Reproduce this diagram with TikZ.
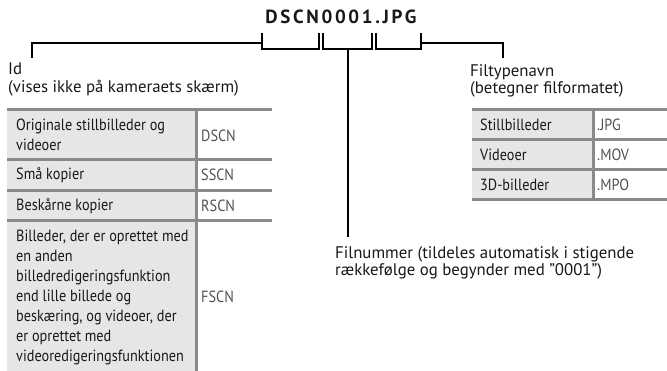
\documentclass[tikz,border=0pt]{standalone}
\usepackage{fontspec}
\setmainfont{PT Sans}
\newfontfamily\cellfont[FakeStretch=0.88]{PT Sans}
\definecolor{txt}{HTML}{1A1718}
\definecolor{codegray}{HTML}{505050}
\definecolor{cellfill}{HTML}{E6E6E6}
\definecolor{rule}{HTML}{8A8A8A}
\tikzset{
  lbl/.style={anchor=base west, inner sep=0pt, align=left, text=txt, font=\fontsize{16.8}{17.5}\selectfont},
  celltxt/.style={anchor=west, inner sep=0pt, align=left, text=txt, font=\cellfont\fontsize{16.2}{20}\selectfont},
  codetxt/.style={anchor=west, inner sep=0pt, text=codegray, font=\cellfont\fontsize{16.2}{20}\selectfont},
  brk/.style={line width=2pt, black},
  rulel/.style={line width=3pt, rule},
}
\begin{document}
\begin{tikzpicture}[x=1pt,y=-1pt]
\useasboundingbox (0,0) rectangle (667,371);
% title
\node[inner sep=0pt, text=txt, font=\fontsize{19}{19}\selectfont\bfseries\addfontfeatures{LetterSpace=14}] (title) at (341,17) {DSCN0001.JPG};
% bracket coordinates
\coordinate (idend) at (32,58);
\coordinate (idc) at (32,43);
\coordinate (b1a) at (262,33); \coordinate (b1b) at (262,49); \coordinate (b1c) at (319,49); \coordinate (b1d) at (319,33);
\coordinate (b1m) at (262,43);
\coordinate (b2a) at (323,33); \coordinate (b2b) at (323,49); \coordinate (b2c) at (372,49); \coordinate (b2d) at (372,33);
\coordinate (b2m) at (347.5,49); \coordinate (b2e) at (347.5,237);
\coordinate (b3a) at (376,33); \coordinate (b3b) at (376,49); \coordinate (b3c) at (421,49); \coordinate (b3d) at (421,33);
\coordinate (b3m) at (421,43);
\coordinate (ftc) at (503,43); \coordinate (ftend) at (503,58);
\draw[brk] (idend) -- (idc) -- (b1m);
\draw[brk] (b1a) -- (b1b) -- (b1c) -- (b1d);
\draw[brk] (b2a) -- (b2b) -- (b2c) -- (b2d);
\draw[brk] (b2m) -- (b2e);
\draw[brk] (b3a) -- (b3b) -- (b3c) -- (b3d);
\draw[brk] (b3m) -- (ftc) -- (ftend);
% labels (base anchor = baseline of last line)
\node[lbl, font=\fontsize{16.8}{18}\selectfont] (idlbl) at (8,93) {Id\\(vises ikke på kameraets skærm)};
\node[lbl] (ftlbl) at (470,94) {Filtypenavn\\(betegner filformatet)};
\node[lbl, font=\fontsize{16.8}{17}\selectfont] (fnlbl) at (335,276) {Filnummer (tildeles automatisk i stigende\\rækkefølge og begynder med "0001")};
% left table
\fill[cellfill] (7,109.5) rectangle (196,371);
\draw[rulel] (196,109.5) -- (196,371);
\draw[rulel] (7,109.5) -- (272,109.5);
\draw[rulel] (7,159.5) -- (272,159.5);
\draw[rulel] (7,190.5) -- (272,190.5);
\draw[rulel] (7,221) -- (272,221);
\node[celltxt] (l1) at (16,134.5) {Originale stillbilleder og\\videoer};
\node[codetxt] (c1) at (201,136) {DSCN};
\node[celltxt] (l2) at (16,175) {Små kopier};
\node[codetxt] (c2) at (201,175) {SSCN};
\node[celltxt] (l3) at (16,205.7) {Beskårne kopier};
\node[codetxt] (c3) at (201,205.7) {RSCN};
\node[celltxt] (l4) at (16,297) {Billeder, der er oprettet med\\en anden\\billedredigeringsfunktion\\end lille billede og\\beskæring, og videoer, der\\er oprettet med\\videoredigeringsfunktionen};
\node[codetxt] (c4) at (201,297) {FSCN};
% right table
\fill[cellfill] (472,110) rectangle (593,200);
\draw[rulel] (593,110) -- (593,200);
\draw[rulel] (472,110) -- (667,110);
\draw[rulel] (472,139.5) -- (667,139.5);
\draw[rulel] (472,169.5) -- (667,169.5);
\draw[rulel] (472,200) -- (667,200);
\node[celltxt] (r1) at (480,125) {Stillbilleder};
\node[codetxt] (s1) at (597,125) {.JPG};
\node[celltxt] (r2) at (480,154.5) {Videoer};
\node[codetxt] (s2) at (597,154.5) {.MOV};
\node[celltxt] (r3) at (480,185) {3D-billeder};
\node[codetxt] (s3) at (597,185) {.MPO};
\end{tikzpicture}
\end{document}
